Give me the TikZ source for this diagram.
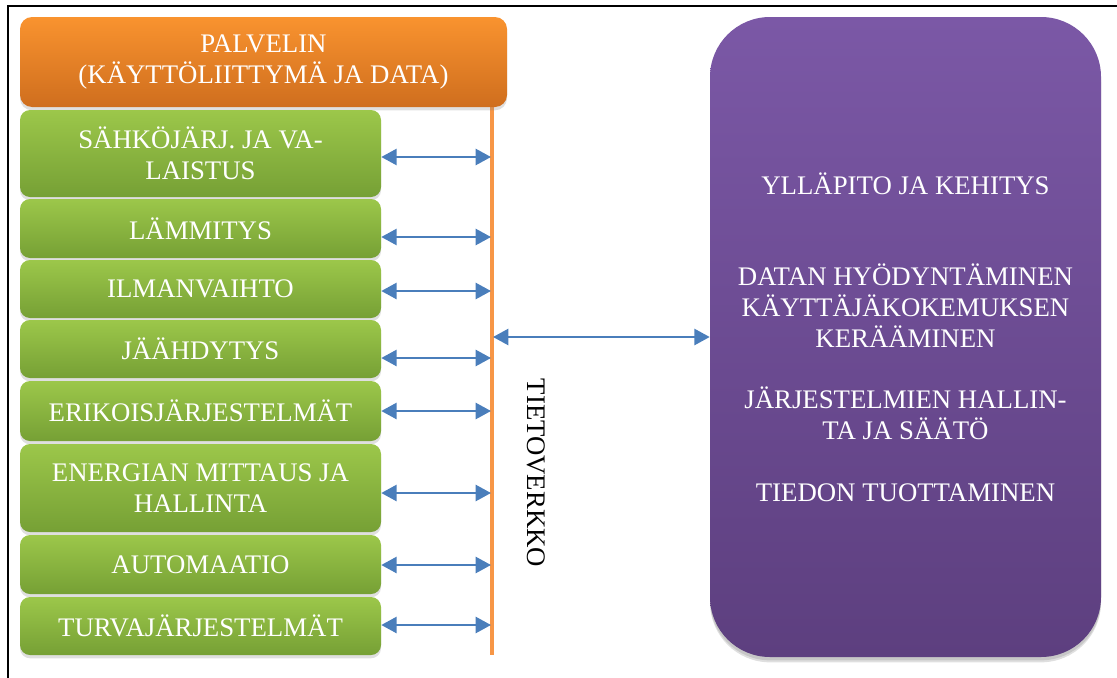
\documentclass[tikz,border=0pt]{standalone}
\usepackage{fontspec}
\setmainfont{Liberation Serif}
\usetikzlibrary{arrows.meta,shadows}
\definecolor{gtop}{HTML}{9CC74A}
\definecolor{gbot}{HTML}{76A035}
\definecolor{otop}{HTML}{F9932F}
\definecolor{obot}{HTML}{CF6E1E}
\definecolor{ptop}{HTML}{7B58A6}
\definecolor{pbot}{HTML}{5D3F7F}
\definecolor{busorange}{HTML}{F79646}
\definecolor{arrowblue}{HTML}{4A7EBB}
\begin{document}
\begin{tikzpicture}[x=0.75pt,y=-0.75pt,
  box/.style={rounded corners=7.5pt, inner sep=0pt, align=center, text=white,
    font=\fontsize{20.1}{23.25}\selectfont,
    drop shadow={shadow xshift=0pt,shadow yshift=-2.5pt,opacity=0.25}},
  greenbox/.style={box, top color=gtop, bottom color=gbot, minimum width=270.75pt},
  orangebox/.style={box, rounded corners=9pt, top color=otop, bottom color=obot},
  purplebox/.style={box, rounded corners=45pt, top color=ptop, bottom color=pbot,
    drop shadow={shadow xshift=0pt,shadow yshift=-4pt,opacity=0.25}},
  link/.style={draw=arrowblue, line width=1.9pt,
    {Triangle[length=11.5pt,width=12pt]}-{Triangle[length=11.5pt,width=12pt]}},
  bus/.style={draw=busorange, line width=3pt},
  frameline/.style={draw=black, line width=1.2pt}
]
\useasboundingbox (0,0) rectangle (1117,678);
\draw[frameline] (8,678) -- (8,6) -- (1117,6);

% bus line
\coordinate (bustop) at (492,107);
\coordinate (busbot) at (492,655);
\draw[bus] (bustop) -- (busbot);

% server box
\node[orangebox, minimum width=365.25pt, minimum height=67.5pt] (srv) at (263.5,62)
  {PALVELIN\\(KÄYTTÖLIITTYMÄ JA DATA)};

% system boxes
\node[greenbox, minimum height=65.25pt] (g1) at (200.5,153.5) {SÄHKÖJÄRJ. JA VA-\\LAISTUS};
\node[greenbox, minimum height=44.25pt] (g2) at (200.5,228.5) {LÄMMITYS};
\node[greenbox, minimum height=43.5pt] (g3) at (200.5,289) {ILMANVAIHTO};
\node[greenbox, minimum height=43.5pt] (g4) at (200.5,349) {JÄÄHDYTYS};
\node[greenbox, minimum height=45pt] (g5) at (200.5,411) {ERIKOISJÄRJESTELMÄT};
\node[greenbox, minimum height=66pt] (g6) at (200.5,488) {ENERGIAN MITTAUS JA\\HALLINTA};
\node[greenbox, minimum height=44.25pt] (g7) at (200.5,564.5) {AUTOMAATIO};
\node[greenbox, minimum height=43.5pt] (g8) at (200.5,626) {TURVAJÄRJESTELMÄT};

% purple box
\node[purplebox, minimum width=293.25pt, minimum height=480pt] (mgmt) at (905.5,337)
  {YLLÄPITO JA KEHITYS\\[45pt]DATAN HYÖDYNTÄMINEN\\KÄYTTÄJÄKOKEMUKSEN\\KERÄÄMINEN\\[22.5pt]JÄRJESTELMIEN HALLIN-\\TA JA SÄÄTÖ\\[23pt]TIEDON TUOTTAMINEN};

% network label
\node[rotate=-90, font=\fontsize{20.1}{23.25}\selectfont, inner sep=0pt] (net) at (536,473) {TIETOVERKKO};

% bus connection points
\coordinate (b1) at (491,157);
\coordinate (b2) at (491,237);
\coordinate (b3) at (491,291);
\coordinate (b4) at (491,358);
\coordinate (b5) at (491,411);
\coordinate (b6) at (491,493);
\coordinate (b7) at (491,565);
\coordinate (b8) at (491,625);
\coordinate (bm) at (493,337);

\draw[link] (b1 -| g1.east) -- (b1);
\draw[link] (b2 -| g2.east) -- (b2);
\draw[link] (b3 -| g3.east) -- (b3);
\draw[link] (b4 -| g4.east) -- (b4);
\draw[link] (b5 -| g5.east) -- (b5);
\draw[link] (b6 -| g6.east) -- (b6);
\draw[link] (b7 -| g7.east) -- (b7);
\draw[link] (b8 -| g8.east) -- (b8);
\draw[link] (bm) -- (bm -| mgmt.west);
\end{tikzpicture}
\end{document}
